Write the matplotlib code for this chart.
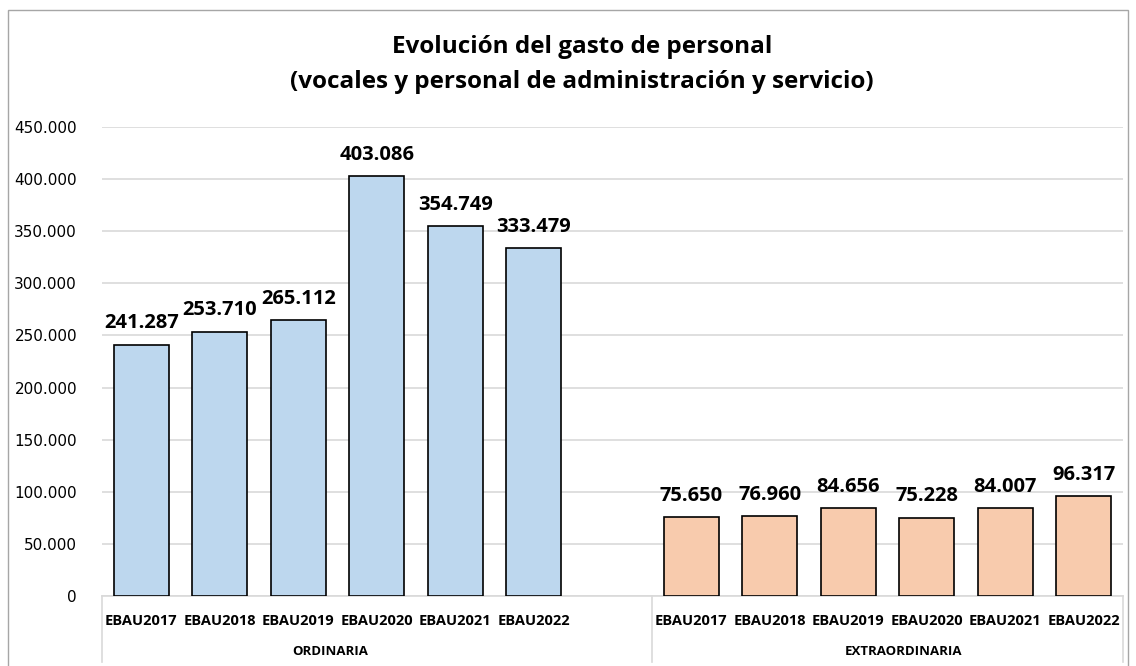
import matplotlib.pyplot as plt
from matplotlib.ticker import FuncFormatter
from matplotlib.patches import Rectangle
import numpy as np

years = ["EBAU2017", "EBAU2018", "EBAU2019", "EBAU2020", "EBAU2021", "EBAU2022"]
ordinaria = [241287, 253710, 265112, 403086, 354749, 333479]
extraordinaria = [75650, 76960, 84656, 75228, 84007, 96317]
groups = ["ORDINARIA", "EXTRAORDINARIA"]

label_font = "Open Sans"

fig = plt.figure(figsize=(11.36, 6.66), dpi=100)
ax = fig.add_axes([102 / 1136, 1 - 596 / 666, (1123 - 102) / 1136, (596 - 127) / 666])

# one empty slot between the two groups
x_ord = np.arange(len(years))
x_ext = np.arange(len(years)) + len(years) + 1
width = 0.7

bars1 = ax.bar(x_ord, ordinaria, width, color="#BDD7EE", edgecolor="black", linewidth=1.2, zorder=3)
bars2 = ax.bar(x_ext, extraordinaria, width, color="#F8CBAD", edgecolor="black", linewidth=1.2, zorder=3)

def fmt(v, pos=None):
    return f"{int(v):,}".replace(",", ".")

for rects in (bars1, bars2):
    for r in rects:
        h = r.get_height()
        ax.annotate(fmt(h), (r.get_x() + r.get_width() / 2, h), xytext=(0, 8),
                    textcoords="offset points", ha="center", va="bottom",
                    fontsize=14.5, fontweight="bold", family=label_font)

ax.set_xlim(-0.5, len(years) * 2 + 0.5)
ax.set_ylim(0, 450000)
ax.set_yticks(np.arange(0, 450001, 50000))
ax.yaxis.set_major_formatter(FuncFormatter(fmt))
ax.tick_params(axis="y", length=0, labelsize=11, pad=18)
ax.grid(axis="y", color="#D9D9D9", linewidth=1.2, zorder=0)

for s in ["top", "right", "left"]:
    ax.spines[s].set_visible(False)
ax.spines["bottom"].set_color("#D9D9D9")
ax.spines["bottom"].set_linewidth(1.2)

ax.set_xticks(list(x_ord) + list(x_ext))
ax.set_xticklabels(years + years, fontsize=10.5, fontweight="bold", family=label_font)
ax.tick_params(axis="x", length=0, pad=13)

# group labels and separators below the axis
ax.text(2.4, -0.118, groups[0], transform=ax.get_xaxis_transform(), ha="center", va="center",
        fontsize=9.5, fontweight="bold", family=label_font)
ax.text(9.7, -0.118, groups[1], transform=ax.get_xaxis_transform(), ha="center", va="center",
        fontsize=9.5, fontweight="bold", family=label_font)
for xs in (-0.5, len(years) + 0.5, len(years) * 2 + 0.5):
    ax.plot([xs, xs], [0, -0.14], transform=ax.get_xaxis_transform(), color="#D9D9D9",
            linewidth=1.2, clip_on=False)

fig.text(582 / 1136, 1 - 47 / 666, "Evolución del gasto de personal", ha="center", va="center",
         fontsize=17.5, fontweight="bold", family=label_font)
fig.text(582 / 1136, 1 - 82 / 666, "(vocales y personal de administración y servicio)", ha="center",
         va="center", fontsize=17.5, fontweight="bold", family=label_font)

# chart frame
fig.patches.append(Rectangle((8 / 1136, -0.05), (1128 - 8) / 1136, 1.05 - 10 / 666,
                             transform=fig.transFigure, fill=False, edgecolor="#A6A6A6",
                             linewidth=1))

fig.savefig("out.png", dpi=100)
